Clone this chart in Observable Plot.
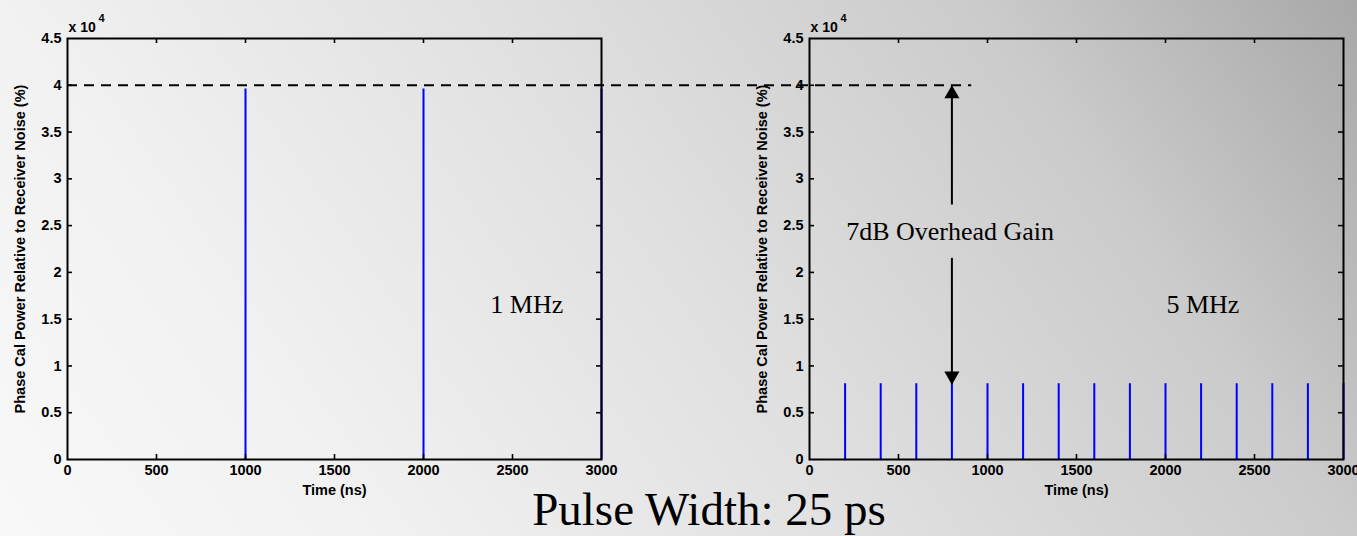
<!DOCTYPE html>
<html>
<head>
<meta charset="utf-8">
<script src="https://cdn.jsdelivr.net/npm/d3@7"></script>
<script src="https://cdn.jsdelivr.net/npm/@observablehq/plot@0.6"></script>
<style>
html, body { margin: 0; padding: 0; }
#stage {
  position: relative; width: 1357px; height: 536px; overflow: hidden;
  background: linear-gradient(55deg, #f8f8f8 0%, #f1f1f1 22%, #e0e0e0 50%, #cbcbcb 78%, #a8a8a8 100%);
}
#left { position: absolute; left: 0; top: 0; }
#right { position: absolute; left: 742px; top: 0; }
#caption {
  position: absolute; left: 459px; width: 500px; top: 486px;
  text-align: center; font-family: "Liberation Serif", "Times New Roman", serif;
  font-size: 47px; line-height: 47px; color: #000; white-space: nowrap;
}
</style>
</head>
<body>
<div id="stage">
  <div id="left"></div>
  <div id="right"></div>
  <div id="caption">Pulse Width: 25 ps</div>
</div>
<script>
// ---- data ----
const timeTicks = [0, 500, 1000, 1500, 2000, 2500, 3000];
const powerTicks = [0, 5000, 10000, 15000, 20000, 25000, 30000, 35000, 40000, 45000];
const pulseTimes1MHz = [1000, 2000, 3000];
const pulsePower1MHz = [39600, 39600, 39600];
const pulseTimes5MHz = [200, 400, 600, 800, 1000, 1200, 1400, 1600, 1800, 2000, 2200, 2400, 2600, 2800, 3000];
const pulsePower5MHz = [8100, 8100, 8100, 8100, 8100, 8100, 8100, 8100, 8100, 8100, 8100, 8100, 8100, 8100, 8100];
const referenceLevel = 40000;
const reducedLevel = 8000;
const yLabel = "Phase Cal Power Relative to Receiver Noise (%)";
const xLabel = "Time (ns)";
const rateLabels = ["1 MHz", "5 MHz"];
const gainLabel = "7dB Overhead Gain";

const W = 534, H = 421, TICK = 5;
const sans = "Liberation Sans, Arial, Helvetica, sans-serif";
const serif = "Liberation Serif, Times New Roman, serif";

function panel(times, powers, width, marginRight, extraMarks) {
  const pulses = times.map((t, i) => ({t, p: powers[i]}));
  return Plot.plot({
    width, height: 536,
    marginLeft: 67, marginRight, marginTop: 38, marginBottom: 77,
    style: {background: "transparent", overflow: "visible", fontFamily: sans, fontSize: "14px", fontWeight: "bold", color: "#000"},
    x: {domain: [0, 3000]},
    y: {domain: [0, 45000]},
    marks: [
      Plot.ruleX(pulses, {x: "t", y1: 0, y2: "p", stroke: "#0000ff", strokeWidth: 2}),
      ...extraMarks.under,
      Plot.frame({stroke: "#000", strokeWidth: 2}),
      Plot.ruleX(timeTicks.slice(1, -1), {insetTop: H - TICK, stroke: "#000", strokeWidth: 1.6}),
      Plot.ruleX(timeTicks.slice(1, -1), {insetBottom: H - TICK, stroke: "#000", strokeWidth: 1.6}),
      Plot.ruleY(powerTicks.slice(1, -1), {insetRight: W - TICK, stroke: "#000", strokeWidth: 1.6}),
      Plot.ruleY(powerTicks.slice(1, -1), {insetLeft: W - TICK, stroke: "#000", strokeWidth: 1.6}),
      Plot.axisX({ticks: timeTicks, tickSize: 0, tickPadding: 5, label: null, tickFormat: d => `${d}`, fontSize: 14.5, fontWeight: "bold"}),
      Plot.axisY({ticks: powerTicks, tickSize: 0, tickPadding: 6, label: null, tickFormat: d => `${d / 1e4}`, fontSize: 14.5, fontWeight: "bold"}),
      Plot.text([yLabel], {frameAnchor: "left", textAnchor: "middle", rotate: -90, dx: -47, fontSize: 14.5, fontWeight: "bold", fontFamily: sans}),
      Plot.text([xLabel], {frameAnchor: "bottom", textAnchor: "middle", dy: 35, fontSize: 14.5, fontWeight: "bold", fontFamily: sans}),
      Plot.text(["x 10"], {frameAnchor: "top-left", textAnchor: "start", dx: 1, dy: -16, fontSize: 14, fontWeight: "bold", fontFamily: sans}),
      Plot.text(["4"], {frameAnchor: "top-left", textAnchor: "start", dx: 31, dy: -24, fontSize: 11, fontWeight: "bold", fontFamily: sans}),
      ...extraMarks.over
    ]
  });
}

const leftPlot = panel(pulseTimes1MHz, pulsePower1MHz, 640, 39, {
  under: [
    Plot.ruleY([referenceLevel], {x1: 0, x2: 5080, stroke: "#000", strokeWidth: 2, strokeDasharray: "10,7"})
  ],
  over: [
    Plot.text([rateLabels[0]], {x: 2580, y: 16500, fontSize: 26, fontWeight: "normal", fontFamily: serif})
  ]
});

const rightPlot = panel(pulseTimes5MHz, pulsePower5MHz, 615, 14, {
  under: [],
  over: [
    Plot.ruleX([800], {y1: referenceLevel, y2: 27200, stroke: "#000", strokeWidth: 2}),
    Plot.ruleX([800], {y1: 21500, y2: reducedLevel, stroke: "#000", strokeWidth: 2}),
    Plot.dot([{x: 800, y: referenceLevel}], {x: "x", y: "y", symbol: "triangle", r: 5.6, fill: "#000", dy: 8.7}),
    Plot.dot([{x: 800, y: reducedLevel}], {x: "x", y: "y", symbol: "triangle", r: 5.6, fill: "#000", rotate: 180, dy: -8.7}),
    Plot.text([gainLabel], {x: 790, y: 24300, fontSize: 26, fontWeight: "normal", fontFamily: serif}),
    Plot.text([rateLabels[1]], {x: 2210, y: 16500, fontSize: 26, fontWeight: "normal", fontFamily: serif})
  ]
});

document.getElementById("left").appendChild(leftPlot);
document.getElementById("right").appendChild(rightPlot);
</script>
</body>
</html>
